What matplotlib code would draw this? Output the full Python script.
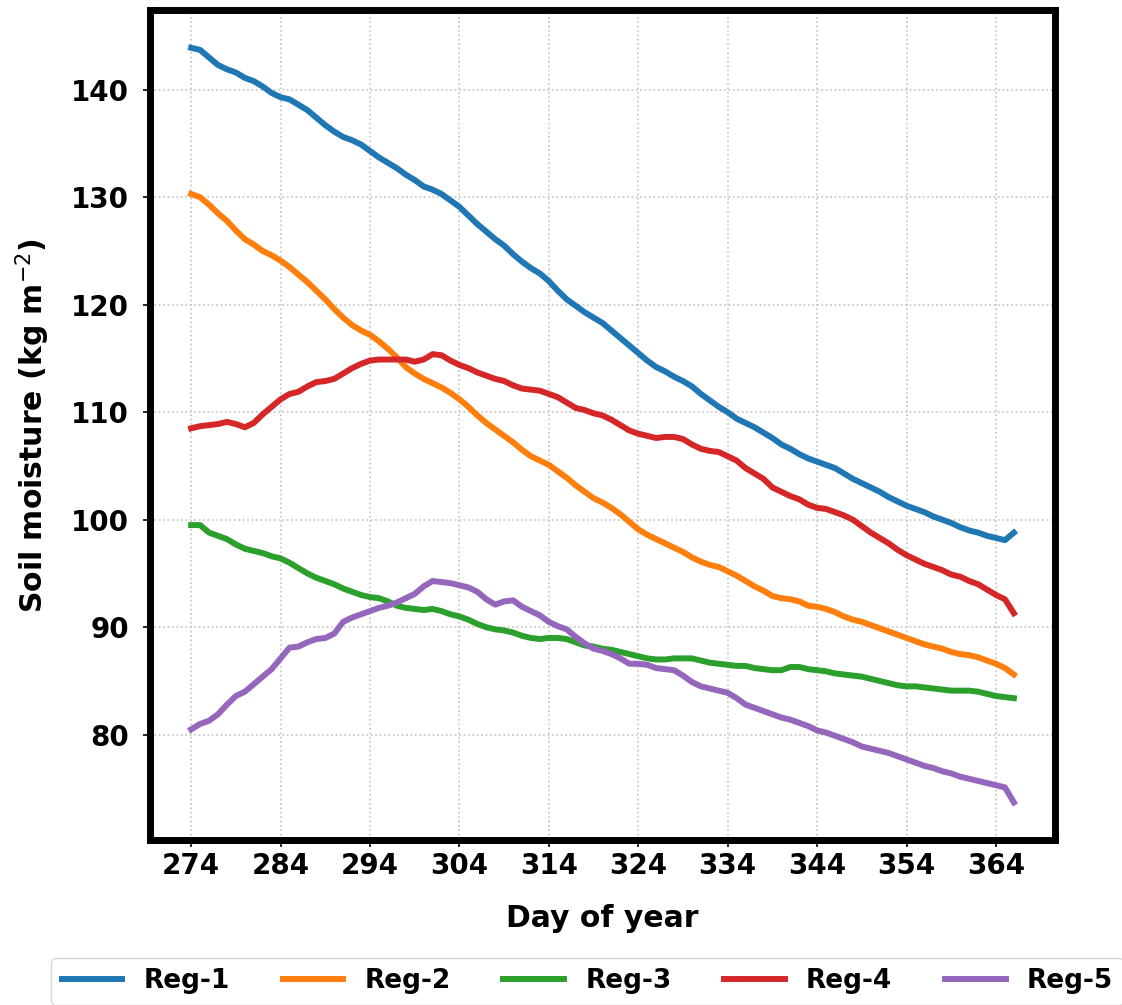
import numpy as np
import matplotlib
matplotlib.use("Agg")
import matplotlib.pyplot as plt

days = list(range(274, 367))
series_names = ["Reg-1", "Reg-2", "Reg-3", "Reg-4", "Reg-5"]
x_ticks = list(range(274, 365, 10))
y_ticks = [80, 90, 100, 110, 120, 130, 140]

reg1 = [143.9,143.7,143.0,142.3,141.9,141.6,141.1,140.8,140.3,139.7,
        139.3,139.1,138.6,138.1,137.4,136.7,136.1,135.6,135.3,134.9,
        134.3,133.7,133.2,132.7,132.1,131.6,131.0,130.7,130.3,129.7,
        129.1,128.3,127.5,126.8,126.1,125.5,124.7,124.0,123.4,122.9,
        122.2,121.3,120.5,119.9,119.3,118.8,118.3,117.6,116.9,116.2,
        115.5,114.8,114.2,113.8,113.3,112.9,112.4,111.7,111.1,110.5,
        110.0,109.4,109.0,108.6,108.1,107.6,107.0,106.6,106.1,105.7,
        105.4,105.1,104.8,104.3,103.8,103.4,103.0,102.6,102.1,101.7,
        101.3,101.0,100.7,100.3,100.0,99.7,99.3,99.0,98.8,98.5,
        98.3,98.1,98.8]
reg2 = [130.3,130.0,129.3,128.5,127.8,126.9,126.1,125.6,125.0,124.6,
        124.1,123.5,122.8,122.1,121.3,120.5,119.6,118.8,118.1,117.6,
        117.2,116.6,115.9,115.1,114.2,113.6,113.1,112.7,112.3,111.8,
        111.2,110.5,109.7,109.0,108.4,107.8,107.2,106.5,105.9,105.5,
        105.1,104.5,103.9,103.2,102.6,102.0,101.6,101.1,100.5,99.8,
        99.1,98.6,98.2,97.8,97.4,97.0,96.5,96.1,95.8,95.6,
        95.2,94.8,94.3,93.8,93.4,92.9,92.7,92.6,92.4,92.0,
        91.9,91.7,91.4,91.0,90.7,90.5,90.2,89.9,89.6,89.3,
        89.0,88.7,88.4,88.2,88.0,87.7,87.5,87.4,87.2,86.9,
        86.6,86.2,85.6]
reg3 = [99.5,99.5,98.8,98.5,98.2,97.7,97.3,97.1,96.9,96.6,
        96.4,96.0,95.5,95.0,94.6,94.3,94.0,93.6,93.3,93.0,
        92.8,92.7,92.4,92.0,91.8,91.7,91.6,91.7,91.5,91.2,
        91.0,90.7,90.3,90.0,89.8,89.7,89.5,89.2,89.0,88.9,
        89.0,89.0,88.9,88.6,88.3,88.2,88.0,87.9,87.7,87.5,
        87.3,87.1,87.0,87.0,87.1,87.1,87.1,86.9,86.7,86.6,
        86.5,86.4,86.4,86.2,86.1,86.0,86.0,86.3,86.3,86.1,
        86.0,85.9,85.7,85.6,85.5,85.4,85.2,85.0,84.8,84.6,
        84.5,84.5,84.4,84.3,84.2,84.1,84.1,84.1,84.0,83.8,
        83.6,83.5,83.4]
reg4 = [108.5,108.7,108.8,108.9,109.1,108.9,108.6,109.0,109.8,110.5,
        111.2,111.7,111.9,112.4,112.8,112.9,113.1,113.6,114.1,114.5,
        114.8,114.9,114.9,114.9,114.9,114.7,114.9,115.4,115.3,114.8,
        114.4,114.1,113.7,113.4,113.1,112.9,112.5,112.2,112.1,112.0,
        111.7,111.4,110.9,110.4,110.2,109.9,109.7,109.3,108.8,108.3,
        108.0,107.8,107.6,107.7,107.7,107.5,107.0,106.6,106.4,106.3,
        105.9,105.5,104.8,104.3,103.8,103.0,102.6,102.2,101.9,101.4,
        101.1,101.0,100.7,100.4,100.0,99.4,98.8,98.3,97.8,97.2,
        96.7,96.3,95.9,95.6,95.3,94.9,94.7,94.3,94.0,93.5,
        93.0,92.6,91.3]
reg5 = [80.5,81.0,81.3,81.9,82.8,83.6,84.0,84.7,85.4,86.1,
        87.1,88.1,88.2,88.6,88.9,89.0,89.4,90.5,90.9,91.2,
        91.5,91.8,92.0,92.3,92.7,93.1,93.8,94.3,94.2,94.1,
        93.9,93.7,93.3,92.6,92.1,92.4,92.5,91.9,91.5,91.1,
        90.5,90.1,89.8,89.1,88.5,88.0,87.8,87.5,87.1,86.6,
        86.6,86.5,86.2,86.1,86.0,85.5,84.9,84.5,84.3,84.1,
        83.9,83.4,82.8,82.5,82.2,81.9,81.6,81.4,81.1,80.8,
        80.4,80.2,79.9,79.6,79.3,78.9,78.7,78.5,78.3,78.0,
        77.7,77.4,77.1,76.9,76.6,76.4,76.1,75.9,75.7,75.5,
        75.3,75.1,73.7]

colors = ["#1f77b4", "#ff7f0e", "#2ca02c", "#d62728", "#9467bd"]

fig = plt.figure(figsize=(11.22, 10.05), dpi=100)
ax = fig.add_axes([0.1337, 0.164, 0.8066, 0.826])

for name, vals, c in zip(series_names, [reg1, reg2, reg3, reg4, reg5], colors):
    ax.plot(days, vals, color=c, lw=4.3, label=name)

ax.set_xticks(x_ticks)
ax.set_yticks(y_ticks)
ax.grid(True, linestyle=':', color='#c4c4c4', lw=1.2)
for s in ax.spines.values():
    s.set_linewidth(5)
    s.set_color('black')
ax.tick_params(axis='both', labelsize=20, width=1.2, length=5)
ax.tick_params(axis='y', pad=10)
for lab in ax.get_xticklabels() + ax.get_yticklabels():
    lab.set_fontweight('bold')
ax.set_xlabel("Day of year", fontsize=21.5, fontweight='bold', labelpad=17)
ax.set_ylabel(r"Soil moisture (kg m$^{-2}$)", fontsize=21.5, fontweight='bold', labelpad=14)

leg = fig.legend(loc='upper left', bbox_to_anchor=(0.0455, 0.047), ncol=5,
                 prop={'size': 19, 'weight': 'bold'}, handlelength=2.3,
                 columnspacing=2.0, borderaxespad=0, frameon=True)

fig.savefig("out.png", dpi=100)
